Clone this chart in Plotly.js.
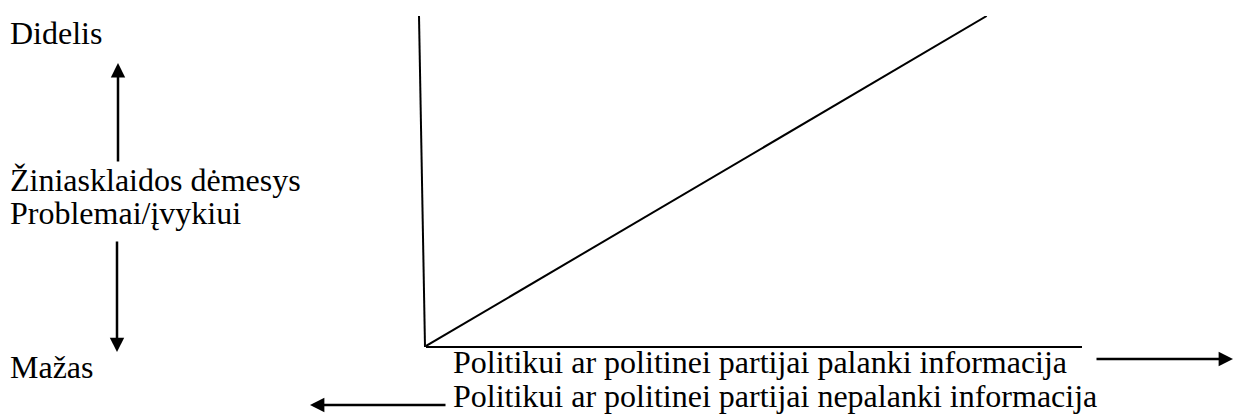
<!DOCTYPE html>
<html>
<head>
<meta charset="utf-8">
<script src="https://cdn.plot.ly/plotly-3.0.1.min.js"></script>
<style>
  html, body { margin: 0; padding: 0; background: #ffffff; }
  #chart { width: 1234px; height: 417px; }
</style>
</head>
<body>
<div id="chart"></div>
<script>
// ---- Data (conceptual relationship) ----
const favourableInfo = [0, 1];      // x: information favourable to the politician / party
const mediaAttention = [0, 1];      // y: media attention to the problem / event
const xAxisMax = 1.17;              // horizontal axis extends past the line end
const yAxisMax = 1.0;

// ---- Text labels ----
const yHighLabel = "Didelis";
const yLowLabel = "Mažas";
const yTitleLines = ["Žiniasklaidos dėmesys", "Problemai/įvykiui"];
const xPosLabel = "Politikui ar politinei partijai palanki informacija";
const xNegLabel = "Politikui ar politinei partijai nepalanki informacija";

// ---- Layout geometry (pixels) ----
const W = 1234, H = 417;
const M = { l: 426, r: 152, t: 16, b: 71 };
const plotW = W - M.l - M.r, plotH = H - M.t - M.b;
const px = x => (x - M.l) / plotW;             // pixel -> paper x
const py = y => (H - M.b - y) / plotH;          // pixel -> paper y

const FONT = { family: "Liberation Serif, Times New Roman, serif", size: 32, color: "#000000" };

function label(text, x, y) {
  return { text: text, xref: "paper", yref: "paper", x: px(x), y: py(y),
           xanchor: "left", yanchor: "middle", showarrow: false, font: FONT,
           borderpad: 0 };
}
function arrow(x0, y0, x1, y1) {
  return { text: "", xref: "paper", yref: "paper", axref: "pixel", ayref: "pixel",
           x: px(x1), y: py(y1), ax: x0 - x1, ay: y0 - y1,
           showarrow: true, arrowhead: 2, arrowsize: 1.15, arrowwidth: 2.5,
           arrowcolor: "#000000", standoff: 0, startstandoff: 0 };
}

const trace = {
  x: favourableInfo, y: mediaAttention, type: "scatter", mode: "lines",
  line: { color: "#000000", width: 2 }, hoverinfo: "skip", cliponaxis: false
};

const axisCommon = {
  showgrid: false, zeroline: false, showticklabels: false, ticks: "",
  linecolor: "#000000", linewidth: 2, fixedrange: true
};

const layout = {
  width: W, height: H,
  margin: { l: M.l, r: M.r, t: M.t, b: M.b, pad: 0 },
  paper_bgcolor: "#ffffff", plot_bgcolor: "#ffffff",
  showlegend: false,
  xaxis: Object.assign({ range: [0, xAxisMax], showline: true }, axisCommon),
  yaxis: Object.assign({ range: [0, yAxisMax], showline: false }, axisCommon),
  shapes: [
    // hand-drawn, slightly slanted vertical axis
    { type: "line", xref: "paper", yref: "paper",
      x0: px(419), y0: py(16), x1: px(425), y1: py(347),
      line: { color: "#000000", width: 2 } }
  ],
  annotations: [
    label(yHighLabel, 9, 33),
    label(yTitleLines[0], 9, 180),
    label(yTitleLines[1], 9, 213),
    label(yLowLabel, 9, 367),
    label(xPosLabel, 452, 362),
    label(xNegLabel, 452, 396),
    arrow(118, 163, 118, 63),
    arrow(117, 240, 117, 352),
    arrow(1095, 359, 1236, 359),
    arrow(447, 405, 310, 405)
  ]
};

Plotly.newPlot("chart", [trace], layout, { displayModeBar: false, staticPlot: true });
</script>
</body>
</html>
